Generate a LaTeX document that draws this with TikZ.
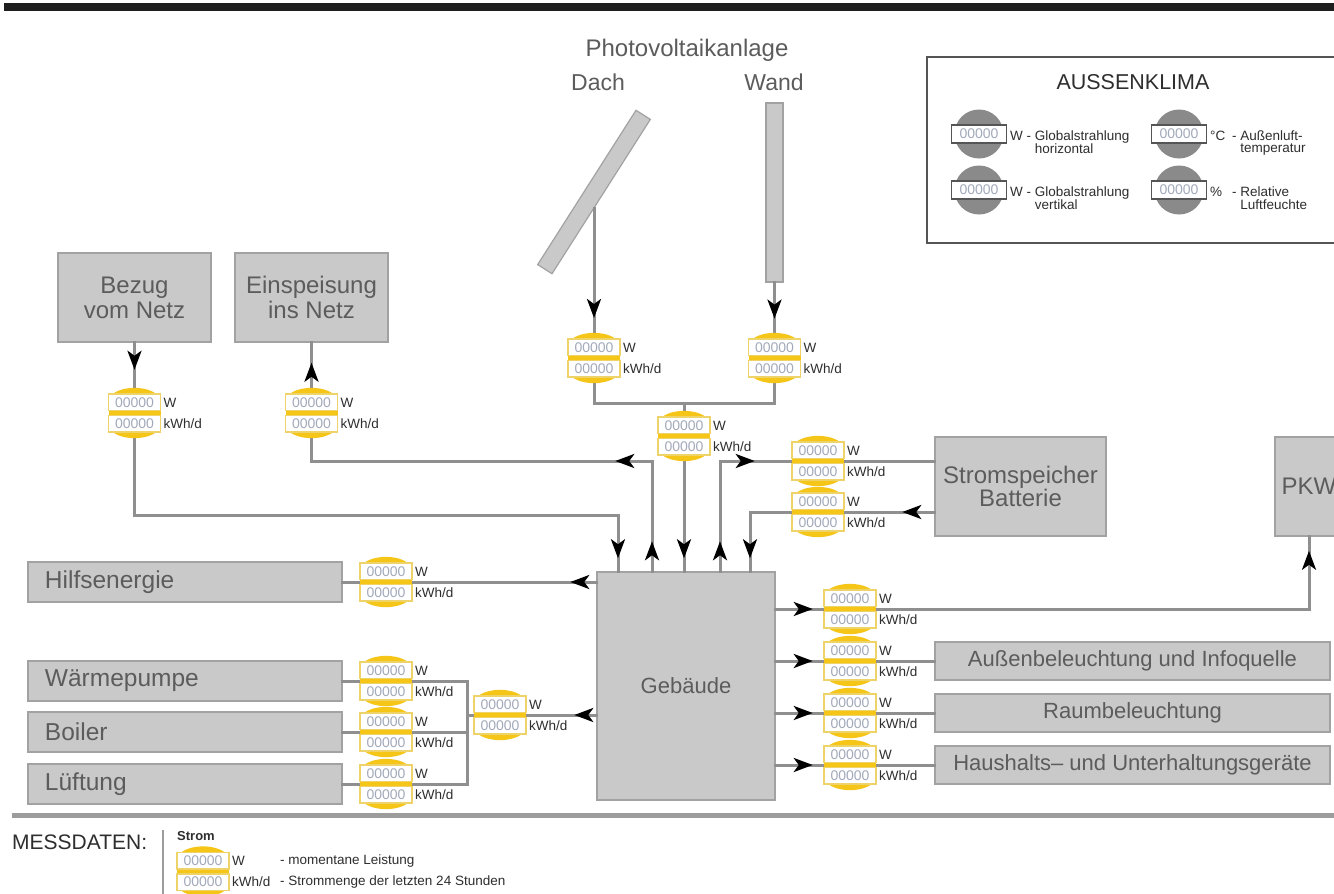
\documentclass[tikz,border=0pt]{standalone}
\usepackage{fontspec}
\setmainfont{Liberation Sans}
\usetikzlibrary{arrows.meta,decorations.markings}
\definecolor{boxfill}{HTML}{C9C9C9}
\definecolor{boxline}{HTML}{A2A2A2}
\definecolor{wirec}{HTML}{8F8F8F}
\definecolor{txtc}{HTML}{5C5C5C}
\definecolor{darktxt}{HTML}{2E2E2E}
\definecolor{yel}{HTML}{F5C518}
\definecolor{fieldc}{HTML}{EDD36A}
\definecolor{digitc}{HTML}{A2A9BA}
\definecolor{gaugec}{HTML}{8A8A8A}
\definecolor{framec}{HTML}{555555}
\definecolor{sepc}{HTML}{9C9C9C}
\definecolor{topbar}{HTML}{1E1E1E}
\newcommand\myfs[1]{\fontsize{#1}{#1}\selectfont}
\tikzset{
  wire/.style={draw=wirec, line width=3pt, line cap=rect},
  tipat/.style={postaction={decorate,decoration={markings,mark=at position #1 with {\arrow[black]{Stealth[length=19pt,width=14pt,inset=5pt]}}}}},
  box/.style={draw=boxline, fill=boxfill, line width=1.5pt, text=txtc, align=center, inner sep=0pt},
  leftbox/.style={box, minimum height=40pt, text width=280pt, inner xsep=17pt, inner ysep=0pt, align=left, font=\myfs{24.5}},
  rightbox/.style={box, minimum width=395pt, minimum height=38pt, font=\myfs{22}},
  panel/.style={draw=boxline, fill=boxfill, line width=1.2pt, inner sep=0pt},
  digit/.style={text=digitc, font=\myfs{14}, inner sep=0pt},
  unit/.style={text=darktxt, font=\myfs{13.5}, inner sep=0pt, anchor=west},
  ttl/.style={text=txtc, inner sep=0pt},
  glabel/.style={text=darktxt, font=\fontsize{13.5}{12.5}\selectfont, inner sep=0pt, anchor=base west},
  meter/.pic={
    \fill[yel] (-23,-18) .. controls (-13,-27.5) and (13,-27.5) .. (23,-18) -- cycle;
    \fill[yel] (-23,18) .. controls (-13,27.5) and (13,27.5) .. (23,18) -- cycle;
    \fill[yel] (-26,-2.5) rectangle (26,2.5);
    \draw[fieldc, line width=1.2pt, fill=white] (-26,-19) rectangle (26,-2.5);
    \draw[fieldc, line width=1.2pt, fill=white] (-26,2.5) rectangle (26,19);
    \node[digit] (-a) at (0,-10.5) {00000};
    \node[digit] (-b) at (0,10.5) {00000};
    \node[unit] (-w) at (29,-10.5) {W};
    \node[unit] (-k) at (29,10.5) {kWh/d};
  },
  gauge/.pic={
    \fill[gaugec] (0,0) circle[radius=24.5pt];
    \draw[framec, line width=1.6pt, fill=white] (-27.5,-9) rectangle (27.5,9);
    \node[digit] (-d) at (0,0) {00000};
  }
}
\begin{document}
\begin{tikzpicture}[x=1pt,y=-1pt]
\useasboundingbox (0,0) rectangle (1334,894);
\clip (0,0) rectangle (1334,894);
\fill[white] (0,0) rectangle (1334,894);
\fill[topbar] (4,3) rectangle (1340,11);

% ---------- boxes ----------
\node[box, minimum width=153pt, minimum height=89pt, font=\fontsize{24}{25}\selectfont] (bez) at (134.5,297.5) {Bezug\\vom Netz};
\node[box, minimum width=153pt, minimum height=89pt, font=\fontsize{24}{25}\selectfont] (eins) at (311.5,297.5) {Einspeisung\\ins Netz};
\node[box, minimum width=171pt, minimum height=99pt, font=\fontsize{24}{23}\selectfont] (speicher) at (1020.5,486.5) {Stromspeicher\\Batterie};
\node[box, minimum width=68pt, minimum height=99pt, font=\myfs{24}] (pkw) at (1309,486.5) {PKW};
\node[box, minimum width=178pt, minimum height=228pt, font=\myfs{22}] (geb) at (686,686) {Gebäude};
\node[leftbox] (hilf) at (185,582) {Hilfsenergie};
\node[leftbox] (wp) at (185,681) {Wärmepumpe};
\node[leftbox] (boi) at (185,732) {Boiler};
\node[leftbox] (lue) at (185,784) {Lüftung};
\node[rightbox] (aus) at (1132.5,661) {Außenbeleuchtung und Infoquelle};
\node[rightbox] (raum) at (1132.5,713) {Raumbeleuchtung};
\node[rightbox] (haus) at (1132.5,765) {Haushalts– und Unterhaltungsgeräte};

% ---------- PV ----------
\node[ttl, font=\myfs{24}, anchor=base] (pvt) at (687,56) {Photovoltaikanlage};
\node[ttl, font=\myfs{23}, anchor=base] (dacht) at (598,90) {Dach};
\node[ttl, font=\myfs{23}, anchor=base] (wandt) at (774,90) {Wand};
\node[panel, minimum width=183pt, minimum height=17pt, rotate=57.5] (dach) at (594,192) {};
\node[panel, minimum width=17pt, minimum height=179pt] (wand) at (774.5,192.5) {};

% ---------- connectors ----------
\coordinate (dachout) at (594,208);
\coordinate (jPV) at (684,403);
\draw[wire, tipat=110pt] (dachout) |- (jPV);
\draw[wire, tipat=36pt] (wand.south) |- (jPV);
\draw[wire, tipat=-13pt] (jPV) -- (jPV |- geb.north);

\coordinate (jB) at (618,515);
\draw[wire, tipat=27pt, tipat=-13pt] (bez.south) |- (jB) -- (jB |- geb.north);

\coordinate (jE) at (652,461);
\draw[wire, tipat=30pt, tipat=147pt, tipat=-20pt] (jE |- geb.north) |- (eins.south |- jE) -- (eins.south);

\coordinate (jS1) at (720,461);
\draw[wire, tipat=30pt, tipat=145pt] (jS1 |- geb.north) |- (speicher.west |- jS1);
\coordinate (jS2) at (750,512);
\draw[wire, tipat=32pt, tipat=-13pt] (speicher.west |- jS2) -| (jS2 |- geb.north);

\draw[wire, tipat=26pt] (geb.west |- hilf) -- (hilf.east);

\coordinate (bus) at (467,715);
\draw[wire, tipat=22pt] (geb.west |- bus) -- (bus);
\draw[wire] (wp.east) -| (bus);
\draw[wire] (boi.east) -- (boi.east -| bus);
\draw[wire] (lue.east) -| (bus);

\coordinate (yPKW) at (0,609);
\draw[wire, tipat=37pt, tipat=-14pt] (geb.east |- yPKW) -| (pkw.south);
\draw[wire, tipat=37pt] (geb.east |- aus) -- (aus.west);
\draw[wire, tipat=37pt] (geb.east |- raum) -- (raum.west);
\draw[wire, tipat=37pt] (geb.east |- haus) -- (haus.west);

% ---------- meters ----------
\pic (mB) at (134.5,413) {meter};
\pic (mE) at (311.5,413) {meter};
\pic (mD) at (594,358) {meter};
\pic (mW) at (774.5,358) {meter};
\pic (mPV) at (684,436) {meter};
\pic (mS1) at (818,461) {meter};
\pic (mS2) at (818,512) {meter};
\pic (mH) at (386,582) {meter};
\pic (mWP) at (386,681) {meter};
\pic (mBo) at (386,732) {meter};
\pic (mL) at (386,784) {meter};
\pic (mG) at (500,715) {meter};
\pic (mR1) at (850,609) {meter};
\pic (mR2) at (850,661) {meter};
\pic (mR3) at (850,713) {meter};
\pic (mR4) at (850,765) {meter};

% ---------- Aussenklima ----------
\draw[framec, line width=1.5pt] (927,57) rectangle (1350,243);
\node[ttl, font=\myfs{21.5}, text=darktxt] (akt) at (1133,82) {AUSSENKLIMA};
\pic (g1) at (979,134) {gauge};
\pic (g2) at (1179,134) {gauge};
\pic (g3) at (979,190) {gauge};
\pic (g4) at (1179,190) {gauge};
\node[glabel] (g1t) at (1010,140) {\begin{tabular}[t]{@{}l@{}}W - Globalstrahlung\\\hphantom{W - }horizontal\end{tabular}};
\node[glabel] (g3t) at (1010,196) {\begin{tabular}[t]{@{}l@{}}W - Globalstrahlung\\\hphantom{W - }vertikal\end{tabular}};
\node[glabel] (g2t) at (1210,140) {\begin{tabular}[t]{@{}l@{}}\makebox[22pt][l]{°C}- Außenluft-\\\hphantom{\makebox[22pt][l]{°C}- }temperatur\end{tabular}};
\node[glabel] (g4t) at (1210,196) {\begin{tabular}[t]{@{}l@{}}\makebox[22pt][l]{\%}- Relative\\\hphantom{\makebox[22pt][l]{\%}- }Luftfeuchte\end{tabular}};

% ---------- legend ----------
\draw[sepc, line width=5pt] (12,815) -- (1340,815);
\node[ttl, font=\myfs{21}, text=darktxt, anchor=west] (mess) at (12,842) {MESSDATEN:};
\draw[sepc, line width=2pt] (163,830) -- (163,900);
\node[unit, font=\bfseries\myfs{13}] (strom) at (177,836) {Strom};
\pic (mLeg) at (203,871.5) {meter};
\node[unit] (leg1) at (280,861) {- momentane Leistung};
\node[unit] (leg2) at (280,882) {- Strommenge der letzten 24 Stunden};
\end{tikzpicture}
\end{document}
